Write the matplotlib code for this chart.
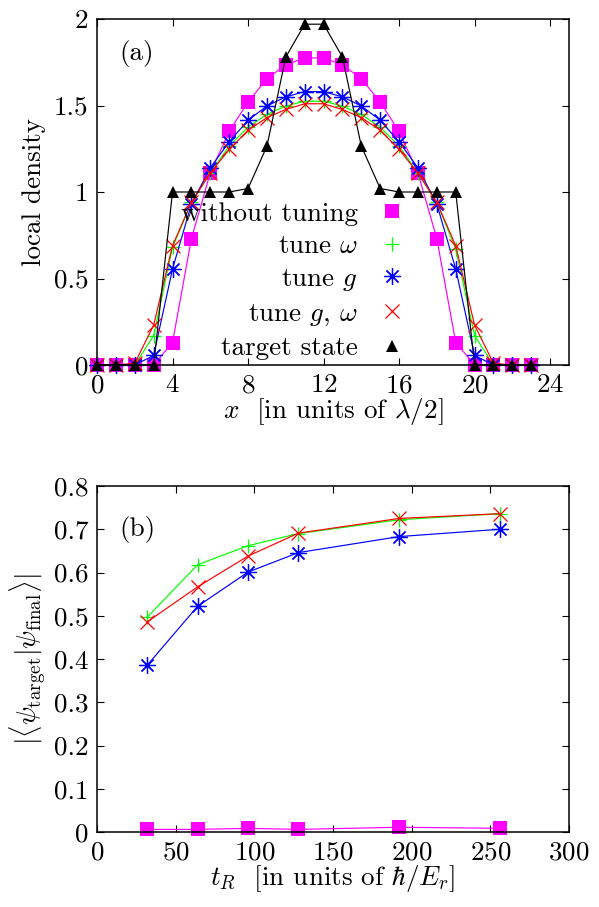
import matplotlib
matplotlib.use("Agg")
import matplotlib.pyplot as plt
from matplotlib.lines import Line2D

plt.rcParams["font.family"] = ["cmr10", "DejaVu Serif"]
plt.rcParams["mathtext.fontset"] = "cm"
plt.rcParams["axes.formatter.use_mathtext"] = True
plt.rcParams["axes.unicode_minus"] = False

# ---- panel (a): local density profiles ----
site = list(range(24))
no_tuning = [0, 0, 0, 0, 0.13, 0.73, 1.11, 1.35, 1.52, 1.655, 1.735, 1.775,
             1.775, 1.735, 1.655, 1.52, 1.35, 1.11, 0.73, 0.13, 0, 0, 0, 0]
tune_omega = [0, 0, 0, 0.17, 0.68, 0.94, 1.11, 1.265, 1.375, 1.448, 1.497, 1.525,
              1.525, 1.497, 1.448, 1.375, 1.265, 1.11, 0.94, 0.67, 0.17, 0, 0, 0]
tune_g = [0, 0, 0, 0.055, 0.555, 0.93, 1.14, 1.29, 1.415, 1.497, 1.55, 1.58,
          1.58, 1.55, 1.497, 1.415, 1.29, 1.14, 0.93, 0.555, 0.055, 0, 0, 0]
tune_g_omega = [0, 0, 0.01, 0.23, 0.69, 0.94, 1.11, 1.246, 1.357, 1.43, 1.477, 1.51,
                1.51, 1.477, 1.43, 1.357, 1.246, 1.11, 0.94, 0.69, 0.23, 0.01, 0, 0]
target = [0, 0, 0, 0, 1, 1, 1, 1, 1.02, 1.265, 1.78, 1.97,
          1.97, 1.78, 1.265, 1.02, 1, 1, 1, 1, 0, 0, 0, 0]

# ---- panel (b): overlap vs ramp time ----
t_ramp = [32, 64, 96, 128, 192, 256]
ov_no_tuning = [0.006, 0.006, 0.0085, 0.006, 0.011, 0.0085]
ov_tune_omega = [0.497, 0.618, 0.662, 0.690, 0.722, 0.736]
ov_tune_g = [0.386, 0.522, 0.601, 0.646, 0.683, 0.700]
ov_tune_g_omega = [0.486, 0.567, 0.638, 0.691, 0.725, 0.736]

labels = ["without tuning", r"tune $\omega$", r"tune $g$",
          r"tune $g$, $\omega$", "target state"]

MAG, GRN, BLU, RED, BLK = "#ff00ff", "#00ff00", "#0000ff", "#ff0000", "#000000"
star = (8, 2, 0)
styles = [
    dict(color=MAG, marker="s", markersize=10.5, markeredgewidth=0),
    dict(color=GRN, marker="+", markersize=10, markeredgewidth=0.9),
    dict(color=BLU, marker=star, markersize=12, markeredgewidth=0.9),
    dict(color=RED, marker="x", markersize=9.5, markeredgewidth=0.9),
    dict(color=BLK, marker="^", markersize=8, markeredgewidth=0),
]

W, H = 599, 907
fig = plt.figure(figsize=(W / 100, H / 100), dpi=100)
ax1 = fig.add_axes([97 / W, (H - 365) / H, 472 / W, 346 / H])
ax2 = fig.add_axes([97 / W, (H - 832) / H, 472 / W, 346 / H])

FS = 19.5
lw = 0.85

for ys, st in zip([no_tuning, tune_omega, tune_g, tune_g_omega, target], styles):
    ax1.plot(site, ys, linewidth=lw, clip_on=False, **st)

for ys, st in zip([ov_no_tuning, ov_tune_omega, ov_tune_g, ov_tune_g_omega], styles[:4]):
    ax2.plot(t_ramp, ys, linewidth=lw, clip_on=False, **st)

ax1.set_xlim(0, 25)
ax1.set_ylim(0, 2)
ax1.set_xticks(range(0, 25, 4))
ax1.set_yticks([0, 0.5, 1, 1.5, 2])
ax1.set_yticklabels(["0", "0.5", "1", "1.5", "2"])
ax1.set_xlabel(r"$x$  [in units of $\lambda/2$]", fontsize=FS, labelpad=-1)
ax1.set_ylabel("local density", fontsize=FS, labelpad=6)
ax1.text(0.083, 0.899, "(a)", transform=ax1.transAxes, fontsize=FS,
         ha="center", va="center")

handles = [Line2D([], [], linestyle="none", **st) for st in styles]
leg = ax1.legend(handles, labels, loc="center", bbox_to_anchor=(0.415, 0.243),
                 frameon=False, markerfirst=False, fontsize=FS,
                 handlelength=1.0, handletextpad=0.75, labelspacing=0.32,
                 borderpad=0, borderaxespad=0)
for t in leg.get_texts():
    t.set_ha("right")
leg._legend_box.align = "right"

ax2.set_xlim(0, 300)
ax2.set_ylim(0, 0.8)
ax2.set_xticks(range(0, 301, 50))
ax2.set_yticks([0, 0.1, 0.2, 0.3, 0.4, 0.5, 0.6, 0.7, 0.8])
ax2.set_yticklabels(["0", "0.1", "0.2", "0.3", "0.4", "0.5", "0.6", "0.7", "0.8"])
ax2.set_xlabel(r"$t_R$  [in units of $\hbar/E_r$]", fontsize=FS, labelpad=-1)
ax2.set_ylabel(r"$|\langle\psi_{\mathrm{target}}|\psi_{\mathrm{final}}\rangle|$",
               fontsize=FS, labelpad=4)
ax2.text(0.085, 0.873, "(b)", transform=ax2.transAxes, fontsize=FS,
         ha="center", va="center")

for ax in (ax1, ax2):
    ax.tick_params(direction="in", top=True, right=True, length=5, width=0.8,
                   labelsize=FS, pad=6)
    for sp in ax.spines.values():
        sp.set_linewidth(1.1)

fig.savefig("out.png", dpi=100)
